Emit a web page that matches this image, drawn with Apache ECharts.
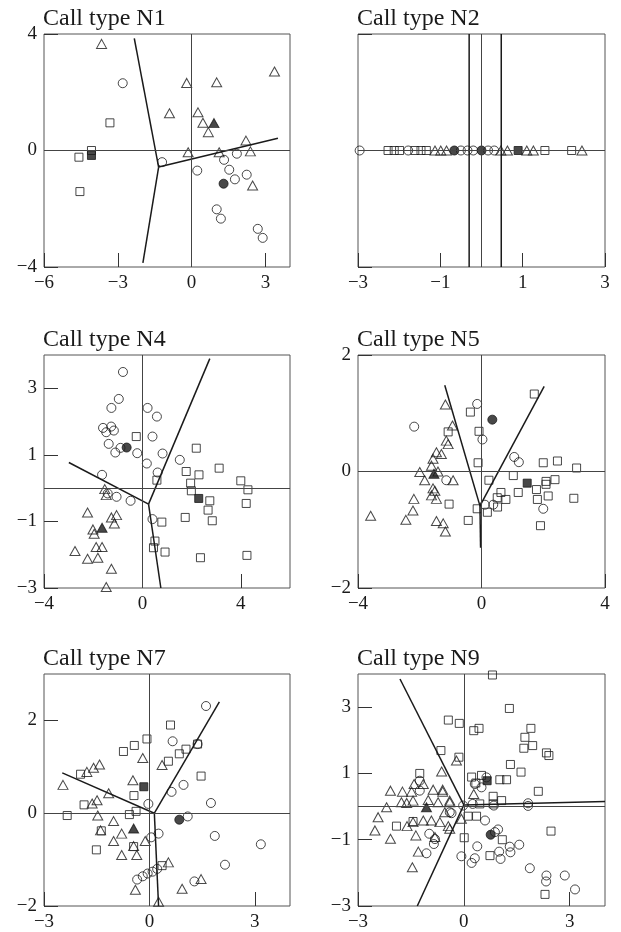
<!DOCTYPE html>
<html>
<head>
<meta charset="utf-8">
<script src="https://cdn.jsdelivr.net/npm/echarts@6/dist/echarts.min.js"></script>
<style>
  html, body { margin: 0; padding: 0; background: #fff; }
  #main { width: 621px; height: 932px; }
</style>
</head>
<body>
<div id="main"></div>
<script>
// 各面板的数据 (open = 个体, filled = 组中心)
// N1
const n1Tri = [[-3.66,3.66],[-0.2,2.32],[1.02,2.34],[3.37,2.71],[-0.9,1.28],[0.26,1.31],[0.46,0.95],[0.68,0.63],[-0.14,-0.06],[1.12,-0.06],[2.21,0.34],[2.39,-0.03],[2.48,-1.2]];
const n1Cir = [[-2.8,2.31],[-1.2,-0.4],[0.23,-0.69],[1.32,-0.32],[1.84,-0.11],[1.53,-0.66],[1.76,-0.99],[2.24,-0.83],[1.02,-2.02],[1.19,-2.34],[2.69,-2.69],[2.89,-3.0]];
const n1Sq = [[-3.32,0.95],[-4.07,0.0],[-4.58,-0.23],[-4.54,-1.41]];
const n1Centre = { tri: [[0.91,0.94]], cir: [[1.3,-1.14]], sq: [[-4.07,-0.17]] };
const n1Lines = [[[-1.34,-0.57],[-2.33,3.85]], [[-1.34,-0.57],[-1.98,-3.86]], [[-1.34,-0.57],[3.51,0.42]]];

// N2 (all on y = 0)
const n2Cir = [[-2.96,0],[-1.78,0],[-0.5,0],[-0.34,0],[-0.2,0],[0.16,0],[0.31,0]];
const n2Sq = [[-2.27,0],[-2.12,0],[-1.99,0],[-1.62,0],[-1.47,0],[-1.34,0],[1.54,0],[2.19,0]];
const n2Tri = [[-1.13,0],[-0.99,0],[-0.85,0],[0.47,0],[0.63,0],[1.1,0],[1.26,0],[2.44,0]];
const n2Centre = { tri: [], cir: [[-0.66,0],[0.0,0]], sq: [[0.89,0]] };
const n2Lines = [[[-0.3,-1],[-0.3,1]], [[0.48,-1],[0.48,1]]];

// N4
const n4Cir = [[-0.79,3.49],[-0.96,2.68],[-1.26,2.41],[0.21,2.41],[0.59,2.15],[-1.6,1.81],[-1.27,1.85],[-1.16,1.73],[-1.47,1.68],[0.41,1.55],[-1.37,1.33],[-0.89,1.21],[-1.1,1.07],[-0.21,1.05],[0.82,1.04],[0.18,0.74],[1.52,0.85],[0.62,0.47],[-1.64,0.4],[-1.41,-0.16],[-1.05,-0.26],[-0.48,-0.38],[0.41,-0.93]];
const n4Sq = [[-0.25,1.55],[2.19,1.2],[3.12,0.6],[1.78,0.5],[2.3,0.4],[0.59,0.24],[1.96,0.15],[1.99,-0.08],[4.0,0.22],[4.29,-0.05],[2.74,-0.38],[2.67,-0.66],[2.84,-0.98],[4.22,-0.46],[1.74,-0.88],[0.79,-1.02],[0.51,-1.59],[0.45,-1.79],[0.92,-1.92],[2.36,-2.09],[4.25,-2.02]];
const n4Tri = [[-1.53,-0.03],[-1.47,-0.21],[-2.23,-0.73],[-1.26,-0.88],[-1.05,-0.81],[-1.14,-1.06],[-2.01,-1.24],[-1.96,-1.37],[-1.88,-1.77],[-1.64,-1.77],[-2.74,-1.89],[-2.23,-2.12],[-1.81,-2.09],[-1.26,-2.42],[-1.47,-2.97]];
const n4Centre = { tri: [[-1.64,-1.19]], cir: [[-0.64,1.22]], sq: [[2.29,-0.31]] };
const n4Lines = [[[0.25,-0.48],[-2.99,0.77]], [[0.25,-0.48],[2.74,3.89]], [[0.25,-0.48],[0.75,-3.0]]];

// N5
const n5Tri = [[-1.17,1.15],[-0.94,0.79],[-1.14,0.53],[-1.08,0.47],[-1.46,0.33],[-1.3,0.3],[-1.57,0.22],[-1.62,0.1],[-2.0,-0.01],[-1.84,-0.15],[-1.41,0.0],[-0.92,-0.15],[-1.57,-0.29],[-1.51,-0.33],[-1.62,-0.41],[-1.46,-0.47],[-2.19,-0.47],[-2.22,-0.67],[-2.45,-0.83],[-3.59,-0.76],[-1.46,-0.85],[-1.24,-0.89],[-1.17,-1.03]];
const n5Cir = [[-0.14,1.16],[-2.18,0.77],[0.03,0.55],[1.06,0.25],[1.21,0.16],[-1.14,-0.15],[0.11,-0.57],[0.38,-0.57],[2.0,-0.64]];
const n5Sq = [[1.71,1.33],[-0.36,1.02],[-1.08,0.68],[-0.08,0.69],[-0.11,0.15],[0.24,-0.15],[1.03,-0.07],[2.0,0.15],[2.46,0.18],[3.08,0.06],[2.38,-0.14],[2.09,-0.17],[2.09,-0.22],[1.19,-0.36],[0.63,-0.36],[0.79,-0.48],[0.51,-0.45],[1.78,-0.31],[1.81,-0.48],[2.16,-0.42],[2.99,-0.46],[-1.05,-0.56],[-0.14,-0.64],[0.19,-0.7],[0.52,-0.61],[-0.43,-0.84],[1.91,-0.93]];
const n5Centre = { tri: [[-1.54,-0.04]], cir: [[0.35,0.89]], sq: [[1.48,-0.2]] };
const n5Lines = [[[-0.05,-0.59],[-1.19,1.48]], [[-0.05,-0.59],[2.03,1.46]], [[-0.05,-0.59],[-0.03,-1.31]]];

// N7
const n7Sq = [[0.6,1.9],[-0.07,1.6],[-0.43,1.46],[-0.74,1.33],[1.37,1.49],[1.04,1.38],[0.85,1.28],[0.54,1.12],[1.47,0.8],[-1.96,0.84],[-0.44,0.38],[-1.86,0.18],[-2.34,-0.05],[-0.57,-0.03],[-0.38,0.04],[-1.37,-0.38],[-0.45,-0.72],[-1.51,-0.79],[0.36,-1.13]];
const n7Cir = [[1.61,2.31],[0.66,1.55],[1.37,1.49],[0.97,0.61],[0.63,0.46],[1.75,0.22],[-0.03,0.2],[1.09,-0.07],[0.26,-0.44],[0.05,-0.52],[1.86,-0.49],[3.17,-0.67],[2.15,-1.11],[1.28,-1.47],[-0.35,-1.43],[-0.19,-1.36],[-0.05,-1.3],[0.09,-1.26],[0.22,-1.2]];
const n7Tri = [[-2.46,0.61],[-1.78,0.89],[-1.59,0.98],[-1.42,1.05],[-0.19,1.19],[0.36,1.04],[-0.47,0.71],[-1.16,0.43],[-1.49,0.28],[-1.63,0.21],[-1.47,-0.05],[-1.02,-0.17],[-0.79,-0.44],[-1.39,-0.37],[-1.02,-0.6],[-0.45,-0.71],[-0.12,-0.6],[-0.79,-0.9],[-0.36,-0.9],[0.54,-1.06],[1.47,-1.42],[-0.4,-1.65],[0.93,-1.63],[0.26,-1.91]];
const n7Centre = { tri: [[-0.45,-0.33]], cir: [[0.85,-0.14]], sq: [[-0.16,0.57]] };
const n7Lines = [[[0.14,0.0],[-2.48,0.87]], [[0.14,0.0],[1.99,2.4]], [[0.14,0.0],[0.26,-2.0]]];

// N9
const n9Sq = [[0.81,3.97],[1.29,2.96],[-0.44,2.61],[-0.13,2.51],[0.28,2.29],[0.43,2.36],[1.9,2.36],[1.73,2.09],[1.95,1.84],[1.7,1.76],[2.34,1.62],[2.41,1.54],[-0.65,1.69],[-0.14,1.49],[1.32,1.27],[1.62,1.04],[0.22,0.89],[0.5,0.94],[0.34,0.71],[1.02,0.81],[1.21,0.81],[2.11,0.46],[0.83,0.31],[1.07,0.18],[0.83,0.08],[0.45,0.08],[-1.25,1.0],[0.12,-0.29],[0.36,-0.29],[-1.91,-0.59],[-1.44,-0.45],[2.47,-0.74],[0.01,-0.94],[1.09,-1.0],[0.74,-1.48],[2.3,-2.65]];
const n9Cir = [[-1.25,0.78],[-1.25,0.48],[-0.4,-0.17],[0.5,0.58],[0.64,0.88],[0.31,0.68],[-0.02,0.03],[0.25,0.08],[0.85,0.03],[1.82,0.1],[1.82,0.02],[0.6,-0.42],[0.97,-0.69],[0.88,-0.77],[-0.98,-0.82],[-0.82,-0.98],[-0.85,-1.13],[-1.06,-1.41],[0.38,-1.2],[1.0,-1.36],[1.3,-1.21],[1.32,-1.38],[1.57,-1.15],[1.04,-1.58],[-0.07,-1.5],[0.31,-1.56],[0.22,-1.7],[1.87,-1.86],[2.34,-2.08],[2.33,-2.26],[2.86,-2.08],[3.15,-2.5],[-0.35,-0.2]];
const n9Tri = [[-0.21,1.39],[-0.63,1.06],[-2.08,0.48],[-1.74,0.45],[-1.48,0.45],[-1.41,0.68],[-1.15,0.68],[-0.87,0.51],[-0.6,0.51],[-0.6,0.45],[-0.4,0.18],[-1.77,0.13],[-1.62,0.11],[-1.44,0.18],[-1.01,0.2],[-0.73,0.13],[-0.4,0.13],[-2.19,-0.02],[-2.43,-0.32],[-2.52,-0.72],[-2.08,-0.97],[-1.61,-0.59],[-1.36,-0.87],[-1.44,-0.47],[-1.15,-0.42],[-0.92,-0.42],[-0.68,-0.47],[-0.44,-0.59],[-0.4,-0.67],[-0.82,-0.92],[-1.29,-1.36],[-1.46,-1.83],[-0.07,-0.37],[0.28,0.38],[-0.54,-0.17]];
const n9Centre = { tri: [[-1.06,-0.02]], cir: [[0.76,-0.85]], sq: [[0.66,0.78]] };
const n9Lines = [[[0.0,0.05],[-1.81,3.85]], [[0.0,0.05],[-1.32,-3.0]], [[0.0,0.05],[4.0,0.15]]];

// 坐标轴范围和刻度
const panelTitles = ['Call type N1', 'Call type N2', 'Call type N4', 'Call type N5', 'Call type N7', 'Call type N9'];
const xRanges = [[-6, 4], [-3, 3], [-4, 6], [-4, 4], [-3, 4], [-3, 4]];
const yRanges = [[-4, 4], [-1, 1], [-3, 4], [-2, 2], [-2, 3], [-3, 4]];
const xTicks = [[-6, -3, 0, 3], [-3, -1, 1, 3], [-4, 0, 4], [-4, 0, 4], [-3, 0, 3], [-3, 0, 3]];
const yTicks = [[-4, 0, 4], [], [-3, -1, 1, 3], [-2, 0, 2], [-2, 0, 2], [-3, -1, 1, 3]];

const panels = [
  { tri: n1Tri, cir: n1Cir, sq: n1Sq, centre: n1Centre, lines: n1Lines },
  { tri: n2Tri, cir: n2Cir, sq: n2Sq, centre: n2Centre, lines: n2Lines },
  { tri: n4Tri, cir: n4Cir, sq: n4Sq, centre: n4Centre, lines: n4Lines },
  { tri: n5Tri, cir: n5Cir, sq: n5Sq, centre: n5Centre, lines: n5Lines },
  { tri: n7Tri, cir: n7Cir, sq: n7Sq, centre: n7Centre, lines: n7Lines },
  { tri: n9Tri, cir: n9Cir, sq: n9Sq, centre: n9Centre, lines: n9Lines }
];

// 布局 (像素)
const gridLefts = [44, 358];
const gridTops = [34, 355, 674];
const gridW = [246, 247];
const gridH = 233;
const titleTops = [7, 328, 647];

const FONT = 'Liberation Serif';
const INK = '#1a1a1a';
const minus = (v) => String(v).replace('-', '\u2212');

const grids = [], xAxes = [], yAxes = [], titles = [], series = [];

panels.forEach((p, i) => {
  const col = i % 2, row = Math.floor(i / 2);
  grids.push({
    left: gridLefts[col], top: gridTops[row], width: gridW[col], height: gridH,
    show: true, borderColor: '#555', borderWidth: 1, backgroundColor: 'transparent'
  });
  titles.push({
    text: panelTitles[i], left: gridLefts[col] - 1, top: titleTops[row], padding: 0,
    textStyle: { fontFamily: FONT, fontSize: 24, fontWeight: 'normal', color: INK }
  });
  const yVals = yTicks[i].length ? yTicks[i] : yRanges[i];
  xAxes.push({
    type: 'value', gridIndex: i, min: xRanges[i][0], max: xRanges[i][1],
    axisLine: { show: false, onZero: false },
    splitLine: { show: false },
    axisTick: { show: true, inside: true, length: 14, customValues: xTicks[i], lineStyle: { color: '#333' } },
    axisLabel: { customValues: xTicks[i], formatter: minus, margin: 7, fontFamily: FONT, fontSize: 19, color: INK }
  });
  yAxes.push({
    type: 'value', gridIndex: i, min: yRanges[i][0], max: yRanges[i][1],
    axisLine: { show: false, onZero: false },
    splitLine: { show: false },
    axisTick: { show: true, inside: true, length: 14, customValues: yVals, lineStyle: { color: '#333' } },
    axisLabel: { show: yTicks[i].length > 0, customValues: yVals, formatter: minus, margin: 7, fontFamily: FONT, fontSize: 19, color: INK }
  });

  // 边界线
  p.lines.forEach((seg) => {
    series.push({
      type: 'line', xAxisIndex: i, yAxisIndex: i, data: seg,
      symbol: 'none', silent: true, z: 2,
      lineStyle: { color: INK, width: 1.5 }
    });
  });

  const open = (sym, data, size, withZero) => {
    const s = {
      type: 'scatter', xAxisIndex: i, yAxisIndex: i, data: data,
      symbol: sym, symbolSize: size, silent: true, z: 3,
      itemStyle: { color: 'rgba(0,0,0,0)', borderColor: INK, borderWidth: 1 },
      emphasis: { disabled: true }
    };
    if (withZero) {
      s.markLine = {
        silent: true, symbol: 'none', label: { show: false },
        lineStyle: { color: '#444', width: 1, type: 'solid' },
        data: [{ xAxis: 0 }, { yAxis: 0 }]
      };
    }
    return s;
  };
  const filled = (sym, data, size) => ({
    type: 'scatter', xAxisIndex: i, yAxisIndex: i, data: data,
    symbol: sym, symbolSize: size, silent: true, z: 4,
    itemStyle: { color: INK, borderColor: INK, borderWidth: 1 },
    emphasis: { disabled: true }
  });

  series.push(open('circle', p.cir, 9, true));
  series.push(open('rect', p.sq, 8, false));
  series.push(open('triangle', p.tri, [10, 9], false));
  series.push(filled('circle', p.centre.cir, 9));
  series.push(filled('rect', p.centre.sq, 8));
  series.push(filled('triangle', p.centre.tri, [10, 9]));
});

const chart = echarts.init(document.getElementById('main'), null, { renderer: 'canvas' });
chart.setOption({
  backgroundColor: '#fff',
  animation: false,
  title: titles,
  grid: grids,
  xAxis: xAxes,
  yAxis: yAxes,
  series: series
});
</script>
</body>
</html>
